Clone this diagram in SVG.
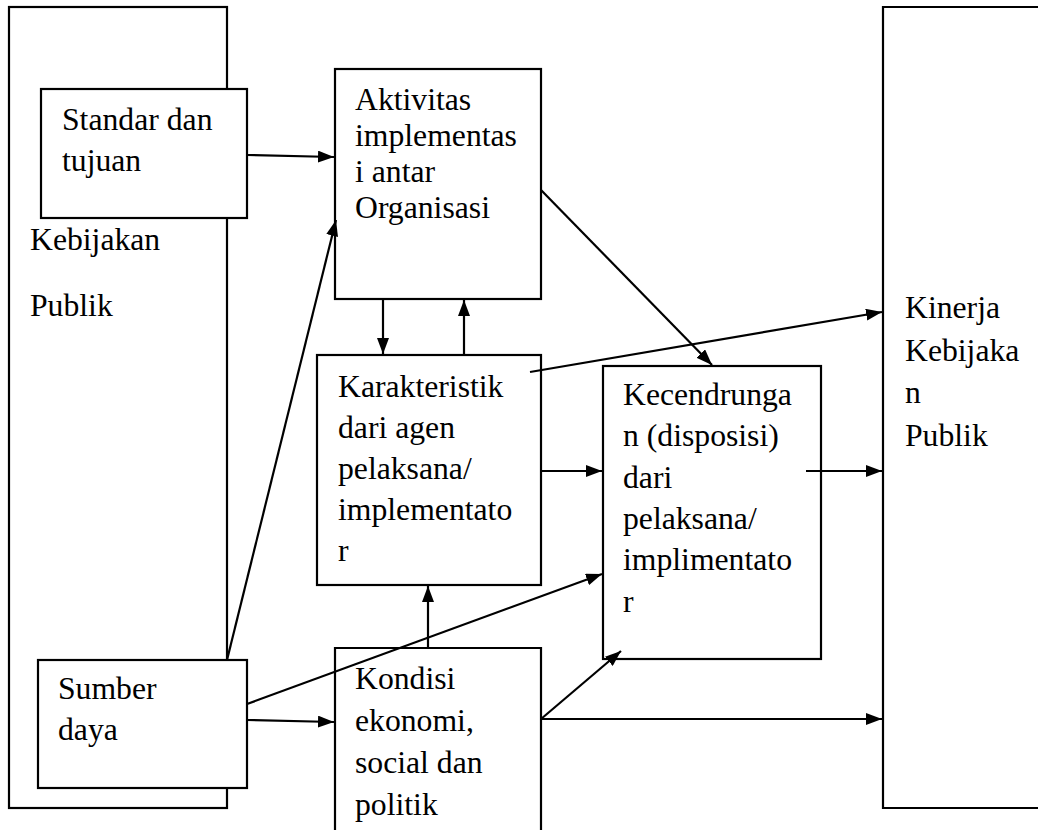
<svg xmlns="http://www.w3.org/2000/svg" width="1038" height="830" viewBox="0 0 1038 830" font-family="Liberation Serif, Times New Roman, serif">
<style>
.box{fill:#fff;stroke:#000;stroke-width:2.2}
.open{fill:none;stroke:#000;stroke-width:2.2}
.t{font-family:'Liberation Serif','Times New Roman',Times,serif;font-size:31.7px;fill:#000}
.c line{stroke:#000;stroke-width:2.2}
</style>
<defs>
<marker id="ah" viewBox="0 0 16 12" refX="16" refY="6" markerWidth="16" markerHeight="12" markerUnits="userSpaceOnUse" orient="auto">
<path d="M0,0 L16,6 L0,12 Z" fill="#000"/>
</marker>
</defs>
<rect width="1038" height="830" fill="#fff"/>
<g id="kebijakan-publik">
<rect class="box" x="9" y="7" width="218" height="801"/>
<text class="t" x="30" y="250">Kebijakan</text>
<text class="t" x="30" y="316">Publik</text>
</g>
<g id="kinerja">
<path class="open" d="M1040,7 H883 V808 H1040"/>
<text class="t" x="905" y="318">Kinerja</text>
<text class="t" x="905" y="361">Kebijaka</text>
<text class="t" x="905" y="403">n</text>
<text class="t" x="905" y="446">Publik</text>
</g>
<g id="standar">
<rect class="box" x="41" y="89" width="206" height="129"/>
<text class="t" x="62" y="130">Standar dan</text>
<text class="t" x="62" y="171">tujuan</text>
</g>
<g id="sumber">
<rect class="box" x="38" y="660" width="209" height="128"/>
<text class="t" x="58" y="699">Sumber</text>
<text class="t" x="58" y="740">daya</text>
</g>
<g id="aktivitas">
<rect class="box" x="335" y="69" width="206" height="230"/>
<text class="t" x="355" y="110">Aktivitas</text>
<text class="t" x="355" y="146">implementas</text>
<text class="t" x="355" y="182">i antar</text>
<text class="t" x="355" y="218">Organisasi</text>
</g>
<g id="karakteristik">
<rect class="box" x="317" y="355" width="224" height="230"/>
<text class="t" x="338" y="397">Karakteristik</text>
<text class="t" x="338" y="438">dari agen</text>
<text class="t" x="338" y="479">pelaksana/</text>
<text class="t" x="338" y="520">implementato</text>
<text class="t" x="338" y="561">r</text>
</g>
<g id="kecendrungan">
<rect class="box" x="603" y="366" width="218" height="293"/>
<text class="t" x="623" y="405">Kecendrunga</text>
<text class="t" x="623" y="446">n (disposisi)</text>
<text class="t" x="623" y="488">dari</text>
<text class="t" x="623" y="529">pelaksana/</text>
<text class="t" x="623" y="570">implimentato</text>
<text class="t" x="623" y="612">r</text>
</g>
<g id="kondisi">
<path class="open" d="M335,832 V648 H541 V832"/>
<text class="t" x="355" y="689">Kondisi</text>
<text class="t" x="355" y="731">ekonomi,</text>
<text class="t" x="355" y="773">social dan</text>
<text class="t" x="355" y="815">politik</text>
</g>
<g class="c" id="connectors">
<line x1="247" y1="155" x2="334" y2="157" marker-end="url(#ah)"/>
<line x1="227" y1="660" x2="336" y2="220" marker-end="url(#ah)"/>
<line x1="383" y1="299" x2="383" y2="354" marker-end="url(#ah)"/>
<line x1="464" y1="355" x2="464" y2="300" marker-end="url(#ah)"/>
<line x1="541" y1="190" x2="712" y2="365" marker-end="url(#ah)"/>
<line x1="530" y1="372" x2="882" y2="312" marker-end="url(#ah)"/>
<line x1="541" y1="471" x2="602" y2="471" marker-end="url(#ah)"/>
<line x1="806" y1="471" x2="882" y2="471" marker-end="url(#ah)"/>
<line x1="247" y1="704" x2="602" y2="574" marker-end="url(#ah)"/>
<line x1="428" y1="648" x2="428" y2="586" marker-end="url(#ah)"/>
<line x1="247" y1="720" x2="334" y2="722" marker-end="url(#ah)"/>
<line x1="541" y1="719" x2="621" y2="651" marker-end="url(#ah)"/>
<line x1="541" y1="719" x2="882" y2="719" marker-end="url(#ah)"/>
</g>
</svg>
